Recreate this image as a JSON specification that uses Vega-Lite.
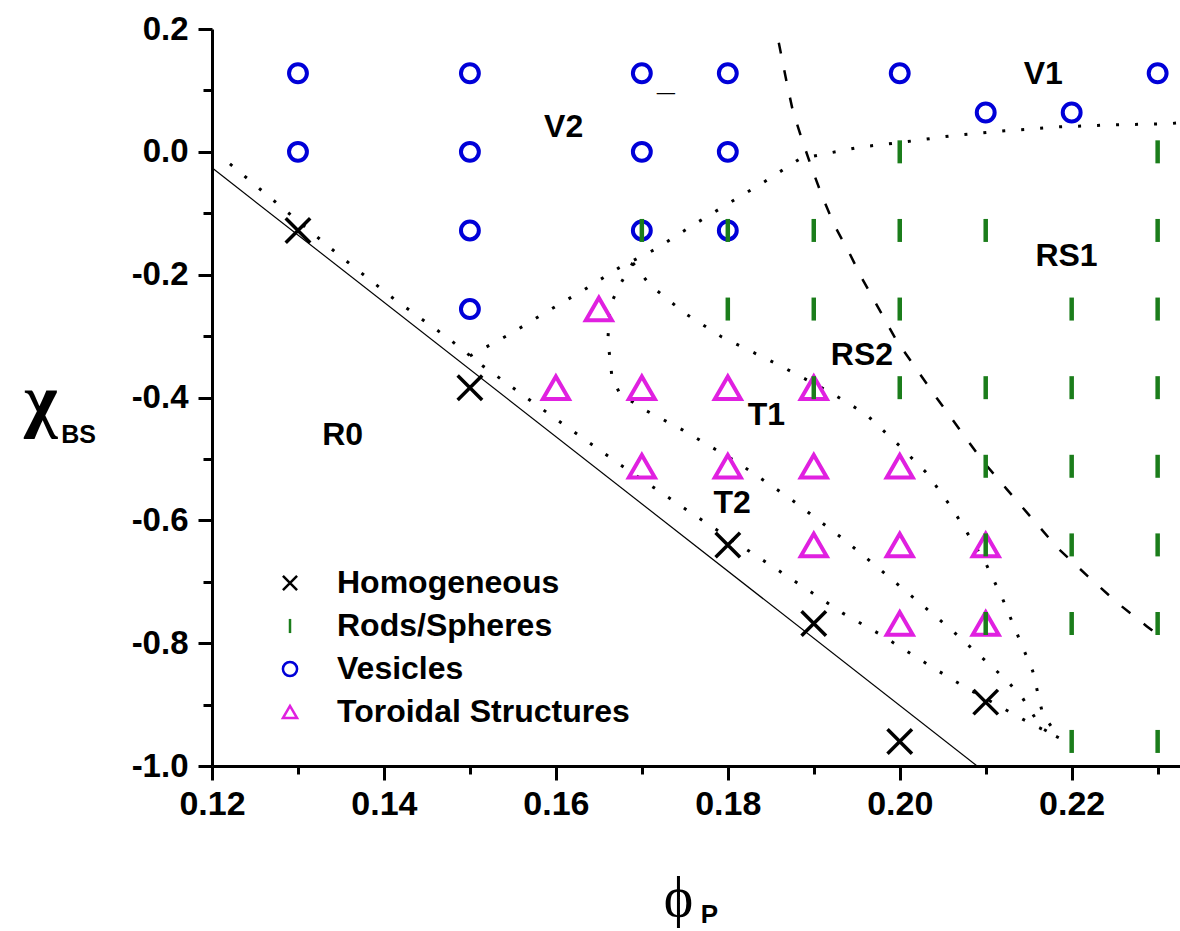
{
  "$schema": "https://vega.github.io/schema/vega-lite/v6.json",
  "width": 968,
  "height": 737,
  "autosize": {"type": "none"},
  "padding": {"left": 212, "top": 29, "right": 0, "bottom": 165},
  "background": "white",
  "config": {
    "view": {"stroke": null},
    "font": "Liberation Sans",
    "axis": {"grid": false, "domainColor": "black", "tickColor": "black", "labelColor": "black", "titleColor": "black"}
  },
  "datasets": {
    "pts": [
      {"t": "Homogeneous", "x": 0.13, "y": -0.128},
      {"t": "Homogeneous", "x": 0.15, "y": -0.384},
      {"t": "Homogeneous", "x": 0.18, "y": -0.64},
      {"t": "Homogeneous", "x": 0.19, "y": -0.768},
      {"t": "Homogeneous", "x": 0.21, "y": -0.896},
      {"t": "Homogeneous", "x": 0.20, "y": -0.96},
      {"t": "Vesicles", "x": 0.13, "y": 0.128},
      {"t": "Vesicles", "x": 0.13, "y": 0.0},
      {"t": "Vesicles", "x": 0.15, "y": 0.128},
      {"t": "Vesicles", "x": 0.15, "y": 0.0},
      {"t": "Vesicles", "x": 0.15, "y": -0.128},
      {"t": "Vesicles", "x": 0.15, "y": -0.256},
      {"t": "Vesicles", "x": 0.17, "y": 0.128},
      {"t": "Vesicles", "x": 0.17, "y": 0.0},
      {"t": "Vesicles", "x": 0.17, "y": -0.128},
      {"t": "Vesicles", "x": 0.18, "y": 0.128},
      {"t": "Vesicles", "x": 0.18, "y": 0.0},
      {"t": "Vesicles", "x": 0.18, "y": -0.128},
      {"t": "Vesicles", "x": 0.20, "y": 0.128},
      {"t": "Vesicles", "x": 0.21, "y": 0.064},
      {"t": "Vesicles", "x": 0.22, "y": 0.064},
      {"t": "Vesicles", "x": 0.23, "y": 0.128},
      {"t": "Toroidal Structures", "x": 0.165, "y": -0.256},
      {"t": "Toroidal Structures", "x": 0.16, "y": -0.384},
      {"t": "Toroidal Structures", "x": 0.17, "y": -0.384},
      {"t": "Toroidal Structures", "x": 0.18, "y": -0.384},
      {"t": "Toroidal Structures", "x": 0.19, "y": -0.384},
      {"t": "Toroidal Structures", "x": 0.17, "y": -0.512},
      {"t": "Toroidal Structures", "x": 0.18, "y": -0.512},
      {"t": "Toroidal Structures", "x": 0.19, "y": -0.512},
      {"t": "Toroidal Structures", "x": 0.20, "y": -0.512},
      {"t": "Toroidal Structures", "x": 0.19, "y": -0.64},
      {"t": "Toroidal Structures", "x": 0.20, "y": -0.64},
      {"t": "Toroidal Structures", "x": 0.21, "y": -0.64},
      {"t": "Toroidal Structures", "x": 0.20, "y": -0.768},
      {"t": "Toroidal Structures", "x": 0.21, "y": -0.768},
      {"t": "Rods/Spheres", "x": 0.20, "y": 0.0},
      {"t": "Rods/Spheres", "x": 0.23, "y": 0.0},
      {"t": "Rods/Spheres", "x": 0.17, "y": -0.128},
      {"t": "Rods/Spheres", "x": 0.18, "y": -0.128},
      {"t": "Rods/Spheres", "x": 0.19, "y": -0.128},
      {"t": "Rods/Spheres", "x": 0.20, "y": -0.128},
      {"t": "Rods/Spheres", "x": 0.21, "y": -0.128},
      {"t": "Rods/Spheres", "x": 0.23, "y": -0.128},
      {"t": "Rods/Spheres", "x": 0.18, "y": -0.256},
      {"t": "Rods/Spheres", "x": 0.19, "y": -0.256},
      {"t": "Rods/Spheres", "x": 0.20, "y": -0.256},
      {"t": "Rods/Spheres", "x": 0.22, "y": -0.256},
      {"t": "Rods/Spheres", "x": 0.23, "y": -0.256},
      {"t": "Rods/Spheres", "x": 0.19, "y": -0.384},
      {"t": "Rods/Spheres", "x": 0.20, "y": -0.384},
      {"t": "Rods/Spheres", "x": 0.21, "y": -0.384},
      {"t": "Rods/Spheres", "x": 0.22, "y": -0.384},
      {"t": "Rods/Spheres", "x": 0.23, "y": -0.384},
      {"t": "Rods/Spheres", "x": 0.21, "y": -0.512},
      {"t": "Rods/Spheres", "x": 0.22, "y": -0.512},
      {"t": "Rods/Spheres", "x": 0.23, "y": -0.512},
      {"t": "Rods/Spheres", "x": 0.21, "y": -0.64},
      {"t": "Rods/Spheres", "x": 0.22, "y": -0.64},
      {"t": "Rods/Spheres", "x": 0.23, "y": -0.64},
      {"t": "Rods/Spheres", "x": 0.21, "y": -0.768},
      {"t": "Rods/Spheres", "x": 0.22, "y": -0.768},
      {"t": "Rods/Spheres", "x": 0.23, "y": -0.768},
      {"t": "Rods/Spheres", "x": 0.22, "y": -0.96},
      {"t": "Rods/Spheres", "x": 0.23, "y": -0.96}
    ],
    "lines": [
      {"id": "S", "o": 1, "x": 0.12, "y": -0.026},
      {"id": "S", "o": 2, "x": 0.209, "y": -1.0},
      {"id": "D1", "o": 1, "x": 0.12209, "y": -0.0196},
      {"id": "D1", "o": 2, "x": 0.1286, "y": -0.0961},
      {"id": "D1", "o": 3, "x": 0.13488, "y": -0.1694},
      {"id": "D1", "o": 4, "x": 0.14116, "y": -0.2395},
      {"id": "D1", "o": 5, "x": 0.14744, "y": -0.3031},
      {"id": "D1", "o": 6, "x": 0.15151, "y": -0.3487},
      {"id": "D1", "o": 7, "x": 0.16, "y": -0.435},
      {"id": "D1", "o": 8, "x": 0.16837, "y": -0.5181},
      {"id": "D1", "o": 9, "x": 0.17663, "y": -0.5963},
      {"id": "D1", "o": 10, "x": 0.18512, "y": -0.6745},
      {"id": "D1", "o": 11, "x": 0.19337, "y": -0.7511},
      {"id": "D1", "o": 12, "x": 0.19767, "y": -0.7853},
      {"id": "D1", "o": 13, "x": 0.20395, "y": -0.8407},
      {"id": "D1", "o": 14, "x": 0.20802, "y": -0.875},
      {"id": "D1", "o": 15, "x": 0.2143, "y": -0.9238},
      {"id": "D1", "o": 16, "x": 0.2186, "y": -0.9548},
      {"id": "D2", "o": 1, "x": 0.16895, "y": -0.1808},
      {"id": "D2", "o": 2, "x": 0.16744, "y": -0.2167},
      {"id": "D2", "o": 3, "x": 0.16628, "y": -0.251},
      {"id": "D2", "o": 4, "x": 0.16605, "y": -0.3063},
      {"id": "D2", "o": 5, "x": 0.16651, "y": -0.365},
      {"id": "D2", "o": 6, "x": 0.16744, "y": -0.3943},
      {"id": "D2", "o": 7, "x": 0.17058, "y": -0.422},
      {"id": "D2", "o": 8, "x": 0.17477, "y": -0.453},
      {"id": "D2", "o": 9, "x": 0.18105, "y": -0.5051},
      {"id": "D2", "o": 10, "x": 0.18733, "y": -0.5654},
      {"id": "D2", "o": 11, "x": 0.1936, "y": -0.6322},
      {"id": "D2", "o": 12, "x": 0.19767, "y": -0.6794},
      {"id": "D2", "o": 13, "x": 0.20605, "y": -0.7788},
      {"id": "D2", "o": 14, "x": 0.21244, "y": -0.8603},
      {"id": "D2", "o": 15, "x": 0.2143, "y": -0.8896},
      {"id": "D2", "o": 16, "x": 0.21651, "y": -0.9385},
      {"id": "D2", "o": 17, "x": 0.2186, "y": -0.9548},
      {"id": "D3", "o": 1, "x": 0.16895, "y": -0.1808},
      {"id": "D3", "o": 2, "x": 0.17093, "y": -0.2167},
      {"id": "D3", "o": 3, "x": 0.17512, "y": -0.264},
      {"id": "D3", "o": 4, "x": 0.1793, "y": -0.3014},
      {"id": "D3", "o": 5, "x": 0.1857, "y": -0.3454},
      {"id": "D3", "o": 6, "x": 0.19186, "y": -0.391},
      {"id": "D3", "o": 7, "x": 0.19605, "y": -0.4269},
      {"id": "D3", "o": 8, "x": 0.2, "y": -0.479},
      {"id": "D3", "o": 9, "x": 0.20314, "y": -0.523},
      {"id": "D3", "o": 10, "x": 0.20616, "y": -0.5817},
      {"id": "D3", "o": 11, "x": 0.21, "y": -0.6697},
      {"id": "D3", "o": 12, "x": 0.21198, "y": -0.7283},
      {"id": "D3", "o": 13, "x": 0.21372, "y": -0.787},
      {"id": "D3", "o": 14, "x": 0.21547, "y": -0.8456},
      {"id": "D3", "o": 15, "x": 0.21663, "y": -0.9157},
      {"id": "D3", "o": 16, "x": 0.2186, "y": -0.9548},
      {"id": "D4", "o": 1, "x": 0.15, "y": -0.3324},
      {"id": "D4", "o": 2, "x": 0.15488, "y": -0.2949},
      {"id": "D4", "o": 3, "x": 0.15907, "y": -0.2591},
      {"id": "D4", "o": 4, "x": 0.16326, "y": -0.2248},
      {"id": "D4", "o": 5, "x": 0.16733, "y": -0.189},
      {"id": "D4", "o": 6, "x": 0.17163, "y": -0.158},
      {"id": "D4", "o": 7, "x": 0.17581, "y": -0.1206},
      {"id": "D4", "o": 8, "x": 0.18, "y": -0.0847},
      {"id": "D4", "o": 9, "x": 0.18407, "y": -0.0505},
      {"id": "D4", "o": 10, "x": 0.18837, "y": -0.0114},
      {"id": "D4", "o": 11, "x": 0.19128, "y": -0.0033},
      {"id": "D4", "o": 12, "x": 0.19558, "y": 0.0081},
      {"id": "D4", "o": 13, "x": 0.19977, "y": 0.0147},
      {"id": "D4", "o": 14, "x": 0.20605, "y": 0.0261},
      {"id": "D4", "o": 15, "x": 0.21221, "y": 0.0342},
      {"id": "D4", "o": 16, "x": 0.2186, "y": 0.0407},
      {"id": "D4", "o": 17, "x": 0.22477, "y": 0.044},
      {"id": "D4", "o": 18, "x": 0.23116, "y": 0.0456},
      {"id": "D4", "o": 19, "x": 0.2326, "y": 0.0473},
      {"id": "D5", "o": 1, "x": 0.18593, "y": 0.1776},
      {"id": "D5", "o": 2, "x": 0.18686, "y": 0.1124},
      {"id": "D5", "o": 3, "x": 0.18756, "y": 0.0668},
      {"id": "D5", "o": 4, "x": 0.1886, "y": 0.0212},
      {"id": "D5", "o": 5, "x": 0.18988, "y": -0.031},
      {"id": "D5", "o": 6, "x": 0.19105, "y": -0.0749},
      {"id": "D5", "o": 7, "x": 0.19244, "y": -0.1206},
      {"id": "D5", "o": 8, "x": 0.19419, "y": -0.1662},
      {"id": "D5", "o": 9, "x": 0.19558, "y": -0.2053},
      {"id": "D5", "o": 10, "x": 0.19965, "y": -0.3079},
      {"id": "D5", "o": 11, "x": 0.2043, "y": -0.4008},
      {"id": "D5", "o": 12, "x": 0.20965, "y": -0.5035},
      {"id": "D5", "o": 13, "x": 0.21244, "y": -0.5491},
      {"id": "D5", "o": 14, "x": 0.21535, "y": -0.5963},
      {"id": "D5", "o": 15, "x": 0.21837, "y": -0.6452},
      {"id": "D5", "o": 16, "x": 0.22186, "y": -0.6908},
      {"id": "D5", "o": 17, "x": 0.22535, "y": -0.7348},
      {"id": "D5", "o": 18, "x": 0.22872, "y": -0.7723},
      {"id": "D5", "o": 19, "x": 0.23023, "y": -0.7886}
    ],
    "labels": [
      {"x": 0.2167, "y": 0.127, "text": "V1"},
      {"x": 0.1609, "y": 0.041, "text": "V2"},
      {"x": 0.2194, "y": -0.169, "text": "RS1"},
      {"x": 0.1956, "y": -0.331, "text": "RS2"},
      {"x": 0.1845, "y": -0.429, "text": "T1"},
      {"x": 0.1805, "y": -0.572, "text": "T2"},
      {"x": 0.1352, "y": -0.461, "text": "R0"},
      {"x": 0.1728, "y": 0.117, "text": "_"}
    ]
  },
  "layer": [
    {
      "data": {"name": "lines"},
      "transform": [{"filter": "datum.id === 'S'"}],
      "mark": {"type": "line", "color": "black", "strokeWidth": 1.2},
      "encoding": {
        "x": {"field": "x", "type": "quantitative",
          "scale": {"domain": [0.12, 0.2326], "nice": false, "zero": false},
          "axis": {"orient": "bottom", "values": [0.13, 0.15, 0.17, 0.19, 0.21, 0.23], "labels": false, "domain": false, "tickSize": 8, "tickWidth": 3,
            "title": "P", "titleFont": "Liberation Sans", "titleFontSize": 26, "titleFontWeight": "bold", "titleX": 497, "titleY": 148, "titleAlign": "center", "titleBaseline": "middle", "titleAngle": 0}},
        "y": {"field": "y", "type": "quantitative",
          "scale": {"domain": [-1, 0.2], "nice": false, "zero": false},
          "axis": {"orient": "left", "values": [0.1, -0.1, -0.3, -0.5, -0.7, -0.9], "labels": false, "domain": false, "tickSize": 9, "tickWidth": 3,
            "title": "BS", "titleFont": "Liberation Sans", "titleFontSize": 25, "titleFontWeight": "bold", "titleX": -134, "titleY": 405, "titleAlign": "center", "titleBaseline": "middle", "titleAngle": 0}},
        "order": {"field": "o", "type": "quantitative"}
      }
    },
    {
      "data": {"name": "lines"},
      "transform": [{"filter": "datum.id === 'D1' || datum.id === 'D2' || datum.id === 'D3' || datum.id === 'D4'"}],
      "mark": {"type": "line", "color": "black", "strokeWidth": 3, "strokeDash": [3, 16], "strokeCap": "butt"},
      "encoding": {
        "x": {"field": "x", "type": "quantitative", "axis": null},
        "y": {"field": "y", "type": "quantitative", "axis": null},
        "detail": {"field": "id"},
        "order": {"field": "o", "type": "quantitative"}
      }
    },
    {
      "data": {"name": "lines"},
      "transform": [{"filter": "datum.id === 'D5'"}],
      "mark": {"type": "line", "color": "black", "strokeWidth": 2.5, "strokeDash": [11, 17], "strokeCap": "butt"},
      "encoding": {
        "x": {"field": "x", "type": "quantitative", "axis": null},
        "y": {"field": "y", "type": "quantitative", "axis": null},
        "order": {"field": "o", "type": "quantitative"}
      }
    },
    {
      "data": {"name": "pts"},
      "transform": [{"filter": "datum.t === 'Homogeneous'"}],
      "mark": {"type": "point", "filled": false, "opacity": 1, "size": 600, "strokeWidth": 3.5},
      "encoding": {
        "x": {"field": "x", "type": "quantitative",
          "axis": {"orient": "bottom", "values": [0.12, 0.14, 0.16, 0.18, 0.2, 0.22], "format": ".2f", "tickSize": 14, "tickWidth": 3, "domainWidth": 3,
            "labelFont": "Liberation Sans", "labelFontSize": 34, "labelFontWeight": "bold", "labelPadding": 7, "labelFlush": false, "labelOverlap": false,
            "title": "ϕ", "titleFont": "Liberation Serif", "titleFontSize": 56, "titleFontWeight": "normal", "titleX": 466, "titleY": 132, "titleAlign": "center", "titleBaseline": "middle", "titleAngle": 0}},
        "y": {"field": "y", "type": "quantitative",
          "axis": {"orient": "left", "values": [0.2, 0, -0.2, -0.4, -0.6, -0.8, -1], "labelExpr": "(datum.value < -0.0001 ? '-' : '') + format(abs(datum.value), '.1f')",
            "tickSize": 14, "tickWidth": 3, "domainWidth": 3,
            "labelFont": "Liberation Sans", "labelFontSize": 33, "labelFontWeight": "bold", "labelPadding": 10, "labelFlush": false, "labelOverlap": false,
            "title": "χ", "titleFont": "Liberation Serif", "titleFontSize": 72, "titleFontWeight": "bold", "titleX": -172, "titleY": 372, "titleAlign": "center", "titleBaseline": "middle", "titleAngle": 0}},
        "shape": {"field": "t", "type": "nominal",
          "scale": {"domain": ["Homogeneous", "Rods/Spheres", "Vesicles", "Toroidal Structures"], "range": ["M-1,-1L1,1M1,-1L-1,1", "M0,-1L0,1", "circle", "triangle-up"]},
          "legend": {"orient": "none", "legendX": 62, "legendY": 538, "title": null, "padding": 0, "labelFont": "Liberation Sans", "labelFontSize": 32, "labelFontWeight": "bold", "labelColor": "black", "labelLimit": 0, "symbolSize": 200, "symbolStrokeWidth": 2.5, "rowPadding": 11, "labelOffset": 31}},
        "color": {"field": "t", "type": "nominal",
          "scale": {"domain": ["Homogeneous", "Rods/Spheres", "Vesicles", "Toroidal Structures"], "range": ["#000000", "#1b7d1b", "#0000d8", "#e020e0"]},
          "legend": {"orient": "none", "legendX": 62, "legendY": 538, "title": null, "padding": 0, "labelFont": "Liberation Sans", "labelFontSize": 32, "labelFontWeight": "bold", "labelColor": "black", "labelLimit": 0, "symbolSize": 200, "symbolStrokeWidth": 2.5, "rowPadding": 11, "labelOffset": 31}}
      }
    },
    {
      "data": {"name": "pts"},
      "transform": [{"filter": "datum.t === 'Vesicles'"}],
      "mark": {"type": "point", "filled": false, "opacity": 1, "size": 320, "strokeWidth": 4},
      "encoding": {
        "x": {"field": "x", "type": "quantitative", "axis": null},
        "y": {"field": "y", "type": "quantitative", "axis": null},
        "shape": {"field": "t", "type": "nominal"},
        "color": {"field": "t", "type": "nominal"}
      }
    },
    {
      "data": {"name": "pts"},
      "transform": [{"filter": "datum.t === 'Toroidal Structures'"}],
      "mark": {"type": "point", "filled": false, "opacity": 1, "size": 676, "strokeWidth": 4},
      "encoding": {
        "x": {"field": "x", "type": "quantitative", "axis": null},
        "y": {"field": "y", "type": "quantitative", "axis": null},
        "shape": {"field": "t", "type": "nominal"},
        "color": {"field": "t", "type": "nominal"}
      }
    },
    {
      "data": {"name": "pts"},
      "transform": [{"filter": "datum.t === 'Rods/Spheres'"}],
      "mark": {"type": "point", "filled": false, "opacity": 1, "size": 529, "strokeWidth": 4.5},
      "encoding": {
        "x": {"field": "x", "type": "quantitative", "axis": null},
        "y": {"field": "y", "type": "quantitative", "axis": null},
        "shape": {"field": "t", "type": "nominal"},
        "color": {"field": "t", "type": "nominal"}
      }
    },
    {
      "data": {"name": "labels"},
      "mark": {"type": "text", "font": "Liberation Sans", "fontWeight": "bold", "fontSize": 32, "align": "center", "baseline": "middle", "color": "black"},
      "encoding": {
        "x": {"field": "x", "type": "quantitative", "axis": null},
        "y": {"field": "y", "type": "quantitative", "axis": null},
        "text": {"field": "text"}
      }
    }
  ],
  "resolve": {"axis": {"x": "independent", "y": "independent"}}
}
